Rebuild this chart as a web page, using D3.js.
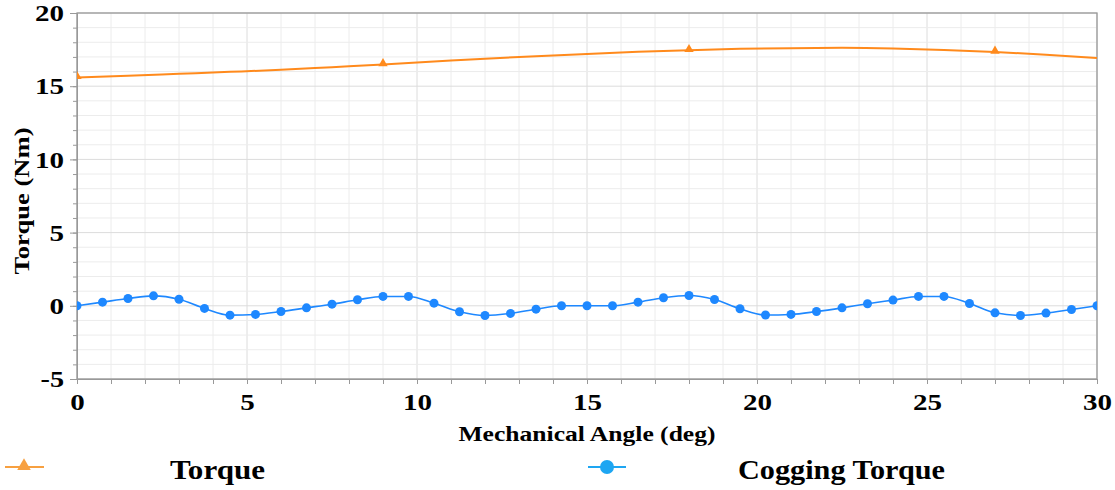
<!DOCTYPE html>
<html><head><meta charset="utf-8">
<script src="https://cdn.jsdelivr.net/npm/d3@7/dist/d3.min.js"></script>
<style>body{margin:0;background:#fff;} text{font-family:"Liberation Serif","Times New Roman",serif;font-weight:bold;fill:#000;}</style>
</head><body><svg id="c" width="1115" height="490"></svg>
<script>
const coggingAngles = d3.range(0, 30.0001, 0.75);
const coggingValues = [0.0,0.25,0.5,0.68,0.45,-0.18,-0.64,-0.59,-0.39,-0.14,0.11,0.41,0.64,0.64,0.18,-0.41,-0.66,-0.52,-0.23,0.0,0.0,0.0,0.25,0.55,0.7,0.43,-0.2,-0.63,-0.59,-0.39,-0.14,0.14,0.39,0.64,0.64,0.16,-0.48,-0.66,-0.5,-0.25,0.0];
const torqueAngles = [0,1.5,3,4.5,6,7.5,9,10.5,12,13.5,15,16.5,18,19.5,21,22.5,24,25.5,27,28.5,30];
const torqueValues = [15.6,15.72,15.85,15.98,16.12,16.3,16.48,16.68,16.88,17.05,17.2,17.35,17.45,17.55,17.6,17.62,17.58,17.48,17.34,17.15,16.93];
const torqueMarkerAngles = [0,9,18,27];
const xTicks = [0,5,10,15,20,25,30];
const yTicks = [-5,0,5,10,15,20];
const seriesNames = ["Torque","Cogging Torque"];

const svg = d3.select("#c");
const L=77, R=1097, T=13, B=379;
const x = d3.scaleLinear().domain([0,30]).range([L,R]);
const y = d3.scaleLinear().domain([-5,20]).range([B,T]);

// grid
const g = svg.append("g");
d3.range(0,31,1).forEach(v=>{
  g.append("line").attr("x1",x(v)).attr("x2",x(v)).attr("y1",T).attr("y2",B)
   .attr("stroke", v%5===0 ? "#dcdcdc" : "#ececec").attr("stroke-width",1);
});
d3.range(-5,21,1).forEach(v=>{
  g.append("line").attr("x1",L).attr("x2",R).attr("y1",y(v)).attr("y2",y(v))
   .attr("stroke", v%5===0 ? "#dcdcdc" : "#ececec").attr("stroke-width",1);
});
// frame
svg.append("rect").attr("x",L).attr("y",T).attr("width",R-L).attr("height",B-T)
  .attr("fill","none").attr("stroke","#999").attr("stroke-width",1.3);

const styleLabels = s=>{
  s.selectAll("text").style("font-size","24px").style("font-family","Liberation Serif").style("font-weight","bold").attr("fill","#000")
   .each(function(){ const t=this.textContent; let w=0; for(const c of t) w += (c==="-"?9:14.5);
     d3.select(this).attr("textLength", w).attr("lengthAdjust","spacingAndGlyphs"); });
};
const fmt = d => String(d);
svg.append("g").attr("transform",`translate(${L},0)`).call(d3.axisLeft(y).tickValues(d3.range(-5,21,1)).tickSize(4).tickFormat(""))
  .call(s=>{s.select(".domain").attr("stroke","#999");s.selectAll("line").attr("stroke","#999");});
svg.append("g").attr("transform",`translate(${L},0)`).call(d3.axisLeft(y).tickValues(yTicks).tickSize(7).tickPadding(6).tickFormat(fmt))
  .call(s=>{s.select(".domain").remove();s.selectAll("line").attr("stroke","#999");styleLabels(s);});
svg.append("g").attr("transform",`translate(0,${B})`).call(d3.axisBottom(x).tickValues(d3.range(0,31,1)).tickSize(5).tickFormat(""))
  .call(s=>{s.select(".domain").attr("stroke","#999");s.selectAll("line").attr("stroke","#999");});
svg.append("g").attr("transform",`translate(0,${B})`).call(d3.axisBottom(x).tickValues(xTicks).tickSize(5).tickPadding(9).tickFormat(fmt))
  .call(s=>{s.select(".domain").remove();s.selectAll("line").attr("stroke","#999");styleLabels(s);
    s.selectAll("text").attr("text-anchor","middle");});

// clip
svg.append("clipPath").attr("id","clip").append("rect").attr("x",L).attr("y",T).attr("width",R-L).attr("height",B-T);
const plot = svg.append("g").attr("clip-path","url(#clip)");

const line = d3.line().x(d=>x(d[0])).y(d=>y(d[1])).curve(d3.curveMonotoneX);
const torqueData = torqueAngles.map((a,i)=>[a,torqueValues[i]]);
const coggingData = coggingAngles.map((a,i)=>[a,coggingValues[i]]);
const orange="#ff8a1c", blue="#1e88ff";
plot.append("path").attr("d",line(torqueData)).attr("fill","none").attr("stroke",orange).attr("stroke-width",2);
plot.append("path").attr("d",line(coggingData)).attr("fill","none").attr("stroke",blue).attr("stroke-width",1.6);
const tri = d3.symbol().type(d3.symbolTriangle).size(38);
torqueData.filter(d=>torqueMarkerAngles.includes(d[0])).forEach(d=>{
  plot.append("path").attr("d",tri()).attr("transform",`translate(${x(d[0])},${y(d[1])-1})`).attr("fill",orange);
});
coggingData.forEach(d=>{
  plot.append("circle").attr("cx",x(d[0])).attr("cy",y(d[1])).attr("r",4.5).attr("fill",blue);
});

// titles
svg.append("text").attr("x",587).attr("y",441).attr("text-anchor","middle").style("font-size","22px")
  .attr("textLength",257).attr("lengthAdjust","spacingAndGlyphs").text("Mechanical Angle (deg)");
svg.append("text").attr("transform","translate(29,201) rotate(-90)").attr("text-anchor","middle").style("font-size","21px")
  .attr("textLength",147).attr("lengthAdjust","spacingAndGlyphs").text("Torque (Nm)");

// legend
const lg = svg.append("g");
lg.append("line").attr("x1",5).attr("x2",44).attr("y1",467).attr("y2",467).attr("stroke","#f7a040").attr("stroke-width",2);
lg.append("path").attr("d",d3.symbol().type(d3.symbolTriangle).size(80)()).attr("transform","translate(24,466)").attr("fill","#f7a040");
lg.append("text").attr("x",170).attr("y",479).style("font-size","28px").attr("textLength",95).attr("lengthAdjust","spacingAndGlyphs").text(seriesNames[0]);
lg.append("line").attr("x1",588).attr("x2",626).attr("y1",467).attr("y2",467).attr("stroke","#1ea6f2").attr("stroke-width",2);
lg.append("circle").attr("cx",607).attr("cy",467).attr("r",7).attr("fill","#1ea6f2");
lg.append("text").attr("x",738).attr("y",479).style("font-size","28px").attr("textLength",207).attr("lengthAdjust","spacingAndGlyphs").text(seriesNames[1]);
</script></body></html>
